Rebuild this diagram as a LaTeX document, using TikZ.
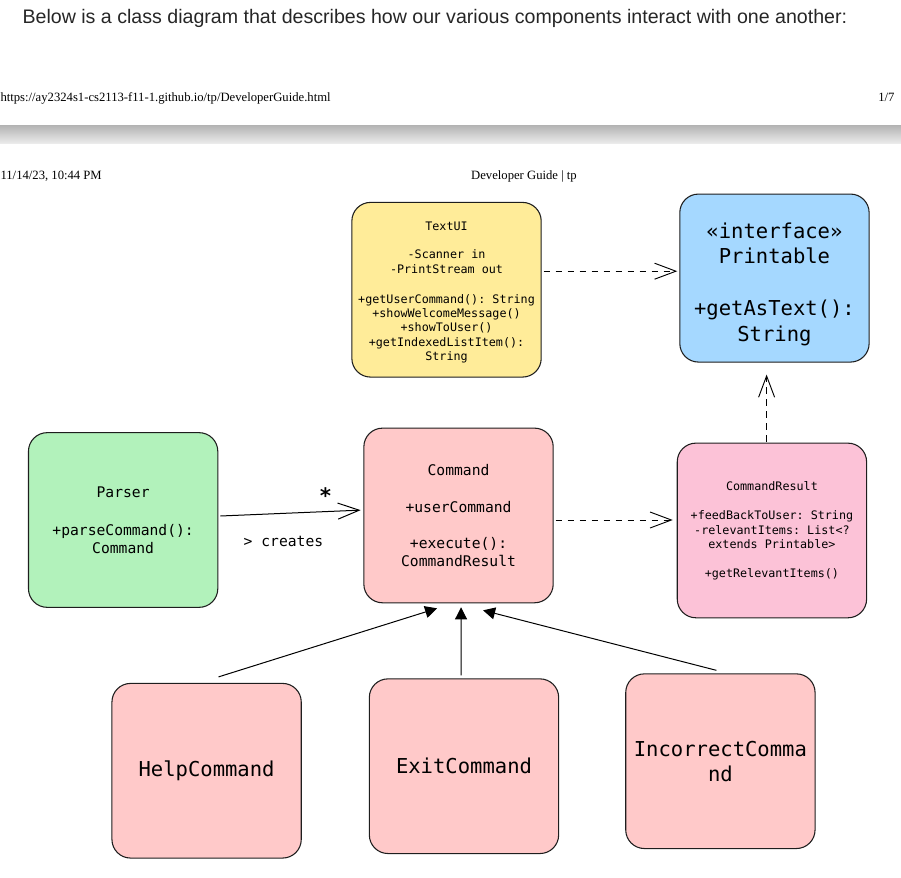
\documentclass[tikz,border=0pt]{standalone}
\usepackage{fontspec}
\setmainfont{Liberation Serif}
\setsansfont{Liberation Sans}
\setmonofont{DejaVu Sans Mono}
\usepackage{xcolor}
\usetikzlibrary{positioning, arrows.meta}

\definecolor{uiyellow}{HTML}{FFEC99}
\definecolor{ifaceblue}{HTML}{A5D8FF}
\definecolor{parsegreen}{HTML}{B2F2BB}
\definecolor{cmdpink}{HTML}{FFC9C9}
\definecolor{resultpink}{HTML}{FCC2D7}
\definecolor{strokegray}{HTML}{1E1E1E}

\begin{document}
\begin{tikzpicture}[node distance=50pt, thick]
    % Styles
    \tikzstyle{umlbox} = [rectangle, draw=strokegray, line width=0.8pt, rounded corners=14pt, minimum width=142pt, minimum height=131pt, align=center, inner sep=2pt]
    \tikzstyle{smalltext} = [font=\ttfamily\fontsize{8.8pt}{10.7pt}\selectfont]
    \tikzstyle{midtext} = [font=\ttfamily\fontsize{11pt}{13.5pt}\selectfont]
    \tikzstyle{bigtext} = [font=\ttfamily\fontsize{15.4pt}{19pt}\selectfont]
    \tikzstyle{pagetext} = [inner sep=0pt, font=\fontsize{9.5pt}{11pt}\selectfont]
    \tikzstyle{depend} = [line width=0.7pt, dash pattern=on 5pt off 4pt, -{Straight Barb[length=16pt,width=12pt]}]
    \tikzstyle{assoc} = [line width=0.75pt, -{Straight Barb[length=16pt,width=12pt]}]
    \tikzstyle{inherit} = [line width=0.75pt, -{Triangle[length=9pt,width=9pt]}]

    \useasboundingbox (0,0) rectangle (675.75pt,-658.5pt);

    % Page header
    \node (intro) [anchor=base west, inner sep=0pt, text=black!85, font=\sffamily\fontsize{14.7pt}{17pt}\selectfont] at (16.5pt,-17.25pt) {Below is a class diagram that describes how our various components interact with one another:};
    \node (url) [pagetext, anchor=base west] at (0pt,-75.75pt) {https://ay2324s1-cs2113-f11-1.github.io/tp/DeveloperGuide.html};
    \node (pageno) [pagetext, anchor=base east] at (671.25pt,-75.75pt) {1/7};
    \shade [top color=black!30, bottom color=black!8] (0pt,-93.75pt) rectangle (675.75pt,-107.25pt);
    \node (stamp) [pagetext, anchor=base west] at (0pt,-134.25pt) {11/14/23, 10:44 PM};
    \node (doctitle) [pagetext, anchor=base] at (393pt,-134.25pt) {Developer Guide \textbar{} tp};

    % Classes
    \node (Command) [umlbox, fill=cmdpink, midtext] at (343.9pt,-386.6pt) {Command\\[14pt]+userCommand\\[13.5pt]+execute():\\CommandResult};
    \node (Parser) [umlbox, fill=parsegreen, midtext, left=108.75pt of Command, yshift=-3.4pt] {Parser\\[15pt]+parseCommand():\\Command};
    \node (Result) [umlbox, fill=resultpink, smalltext, right=92.25pt of Command, yshift=-11.25pt] {CommandResult\\[11.6pt]+feedBackToUser: String\\-relevantItems: List<?\\extends Printable>\\[10.9pt]+getRelevantItems()};
    \node (TextUI) [umlbox, fill=uiyellow, smalltext, above=37.5pt of Command, xshift=-9pt] {\rule{0pt}{10pt}TextUI\\[11pt]-Scanner in\\-PrintStream out\\[11.8pt]+getUserCommand(): String\\+showWelcomeMessage()\\+showToUser()\\+getIndexedListItem():\\String};
    \node (Printable) [umlbox, fill=ifaceblue, bigtext, minimum height=126pt, above=60pt of Result, xshift=1.9pt] {\rule{0pt}{21pt}«interface»\\Printable\\[20pt]+getAsText():\\String};

    % Subclasses
    \node (ExitCommand) [umlbox, fill=cmdpink, bigtext, below=56.25pt of Command, xshift=4.1pt] {ExitCommand};
    \node (HelpCommand) [umlbox, fill=cmdpink, bigtext, left=50.25pt of ExitCommand, yshift=-3.4pt] {HelpCommand};
    \node (IncorrectCommand) [umlbox, fill=cmdpink, bigtext, right=49.5pt of ExitCommand, yshift=3.75pt] {IncorrectComma\\nd};

    % Dependency Arrows
    \coordinate (uiout) at ([yshift=13.9pt]TextUI.east);
    \coordinate (resout) at ([xshift=-4pt]Result.north);
    \coordinate (cmdout) at ([yshift=-3.4pt]Command.east);
    \draw [depend, shorten <=1.5pt, shorten >=1.5pt] (uiout) -- (uiout -| Printable.west);
    \draw [depend, shorten <=0.75pt, shorten >=9pt] (resout) -- (resout |- Printable.south);
    \draw [depend, shorten <=1.5pt, shorten >=3pt] (cmdout) -- (cmdout -| Result.west);

    % Association
    \draw [assoc] ([xshift=1.5pt,yshift=3pt]Parser.east) -- node[pos=0.75, yshift=12pt, font=\ttfamily\bfseries\fontsize{16pt}{16pt}\selectfont] (mult) {*} node[pos=0.45, yshift=-21pt, midtext] (creates) {> creates} ([xshift=-2pt,yshift=4pt]Command.west);

    % Inheritance Arrows
    \draw [inherit] ([xshift=9pt,yshift=4.5pt]HelpCommand.north) -- ([xshift=-16.1pt,yshift=-3.75pt]Command.south);
    \draw [inherit] ([xshift=-2.25pt,yshift=2.25pt]ExitCommand.north) -- ([xshift=1.9pt,yshift=-3pt]Command.south);
    \draw [inherit] ([xshift=-3pt,yshift=2.25pt]IncorrectCommand.north) -- ([xshift=18.4pt,yshift=-5.25pt]Command.south);

\end{tikzpicture}
\end{document}
